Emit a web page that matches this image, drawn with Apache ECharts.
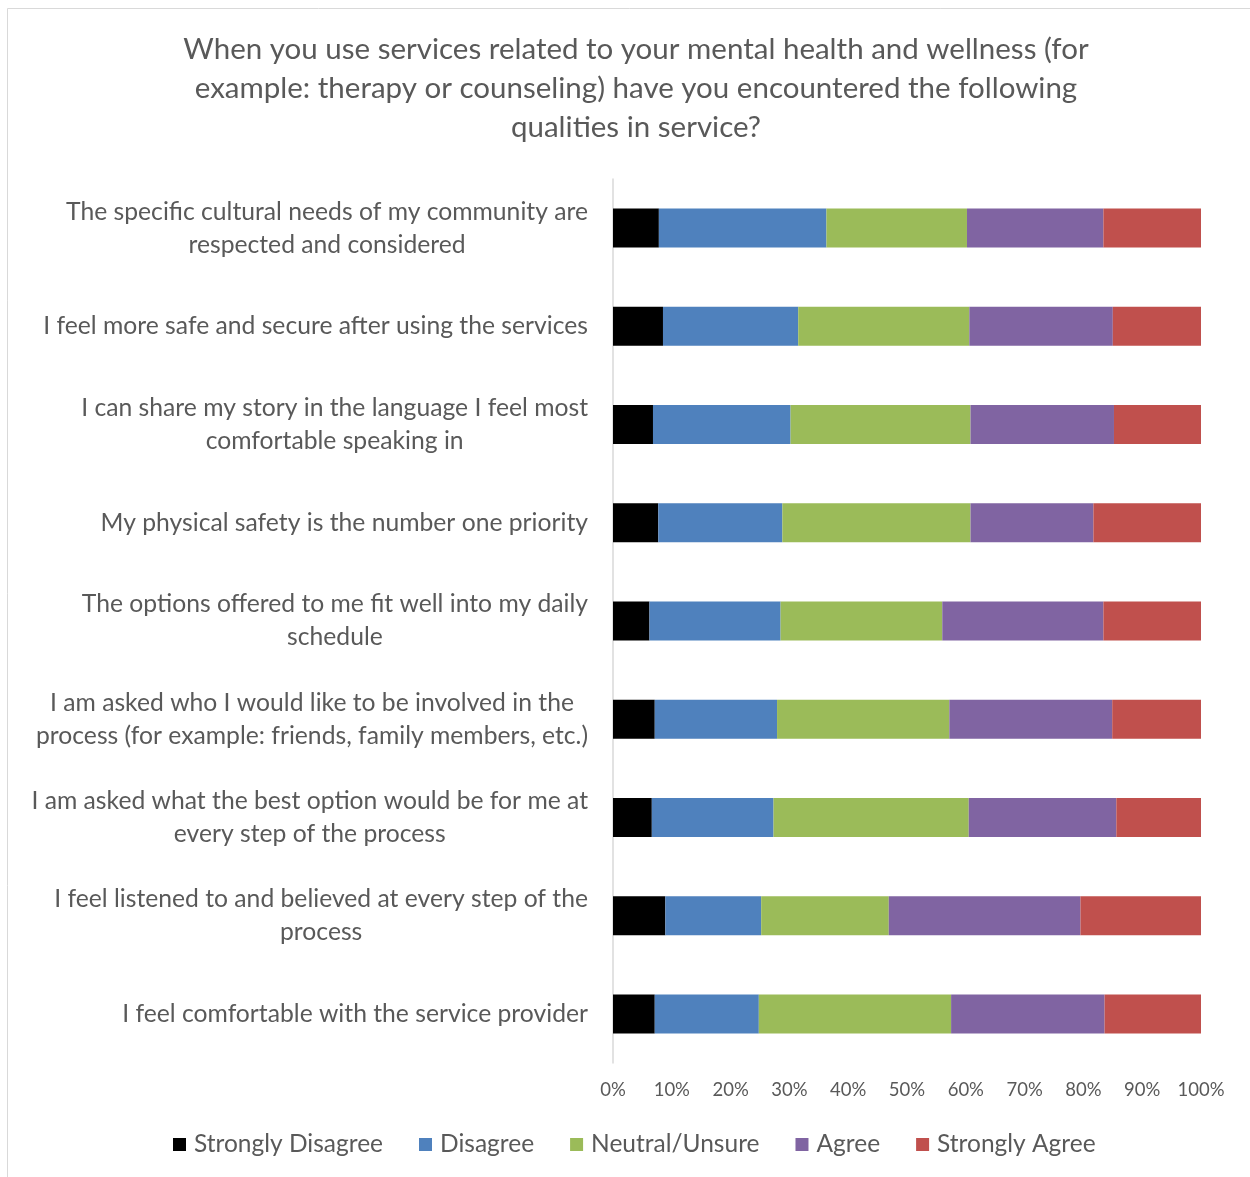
<!DOCTYPE html>
<html>
<head>
<meta charset="utf-8">
<title>Qualities in mental health services</title>
<script src="https://cdn.jsdelivr.net/npm/echarts@6/dist/echarts.min.js"></script>
<style>
  html, body { margin: 0; padding: 0; background: #ffffff; }
  #chart { width: 1250px; height: 1177px; }
</style>
</head>
<body>
<div id="chart"></div>
<script>
// Survey statements, listed top to bottom
const statements = [
  'The specific cultural needs of my community are\nrespected and considered',
  'I feel more safe and secure after using the services',
  'I can share my story in the language I feel most\ncomfortable speaking in',
  'My physical safety is the number one priority',
  'The options offered to me fit well into my daily\nschedule',
  'I am asked who I would like to be involved in the\nprocess (for example: friends, family members, etc.)',
  'I am asked what the best option would be for me at\nevery step of the process',
  'I feel listened to and believed at every step of the\nprocess',
  'I feel comfortable with the service provider'
];

// Share of responses (%) per statement, same order as above
const stronglyDisagree = [7.8, 8.5, 6.8, 7.7, 6.2, 7.1, 6.6, 8.9, 7.1];
const disagree         = [28.5, 23.0, 23.4, 21.1, 22.3, 20.8, 20.7, 16.3, 17.7];
const neutralUnsure    = [23.9, 29.1, 30.6, 32.0, 27.5, 29.3, 33.2, 21.7, 32.7];
const agree            = [23.2, 24.4, 24.4, 20.9, 27.4, 27.7, 25.1, 32.6, 26.1];
const stronglyAgree    = [16.6, 15.0, 14.8, 18.3, 16.6, 15.1, 14.4, 20.5, 16.4];

const seriesNames = ['Strongly Disagree', 'Disagree', 'Neutral/Unsure', 'Agree', 'Strongly Agree'];
const seriesValues = [stronglyDisagree, disagree, neutralUnsure, agree, stronglyAgree];
const seriesColors = ['#000000', '#4f81bd', '#9bbb59', '#8064a2', '#c0504d'];

const titleText = 'When you use services related to your mental health and wellness (for\n' +
  'example: therapy or counseling) have you encountered the following\n' +
  'qualities in service?';

const FONT = 'Lato, "Open Sans", sans-serif';
const TEXT_COLOR = '#595959';

const chart = echarts.init(document.getElementById('chart'), null, { renderer: 'canvas' });

const option = {
  backgroundColor: '#ffffff',
  animation: false,
  textStyle: { fontFamily: FONT },
  graphic: [{
    type: 'rect',
    silent: true,
    shape: { x: 7.5, y: 8.5, width: 1260, height: 1200 },
    style: { fill: 'none', stroke: '#d9d9d9', lineWidth: 1 }
  }],
  title: {
    text: titleText,
    left: 631,
    top: 25,
    textAlign: 'center',
    textStyle: {
      fontFamily: FONT,
      fontSize: 29.5,
      fontWeight: 'normal',
      lineHeight: 39,
      color: TEXT_COLOR,
      align: 'center'
    }
  },
  legend: {
    data: seriesNames,
    left: 168,
    top: 1127,
    icon: 'rect',
    itemWidth: 13,
    itemHeight: 13,
    itemGap: 36,
    textStyle: { fontFamily: FONT, fontSize: 24.5, color: TEXT_COLOR, padding: [0, 0, 0, 3] }
  },
  grid: {
    left: 613,
    right: 49,
    top: 179,
    bottom: 114,
    containLabel: false
  },
  xAxis: {
    type: 'value',
    min: 0,
    max: 100,
    interval: 10,
    axisLine: { show: false },
    axisTick: { show: false },
    splitLine: { show: false },
    axisLabel: {
      formatter: '{value}%',
      fontFamily: FONT,
      fontSize: 18.5,
      color: TEXT_COLOR,
      margin: 18
    }
  },
  yAxis: {
    type: 'category',
    data: statements,
    inverse: true,
    axisLine: { show: true, lineStyle: { color: '#d9d9d9', width: 1.5 } },
    axisTick: { show: false },
    axisLabel: {
      margin: 25,
      align: 'right',
      formatter: function (value) {
        return value.split('\n').map(function (line) { return '{c|' + line + '}'; }).join('\n');
      },
      rich: {
        c: {
          align: 'center',
          fontFamily: FONT,
          fontSize: 24.7,
          lineHeight: 33,
          color: TEXT_COLOR
        }
      }
    }
  },
  series: seriesNames.map(function (name, i) {
    return {
      name: name,
      type: 'bar',
      stack: 'total',
      barWidth: 39,
      data: seriesValues[i],
      itemStyle: { color: seriesColors[i] }
    };
  })
};

chart.setOption(option);
</script>
</body>
</html>
